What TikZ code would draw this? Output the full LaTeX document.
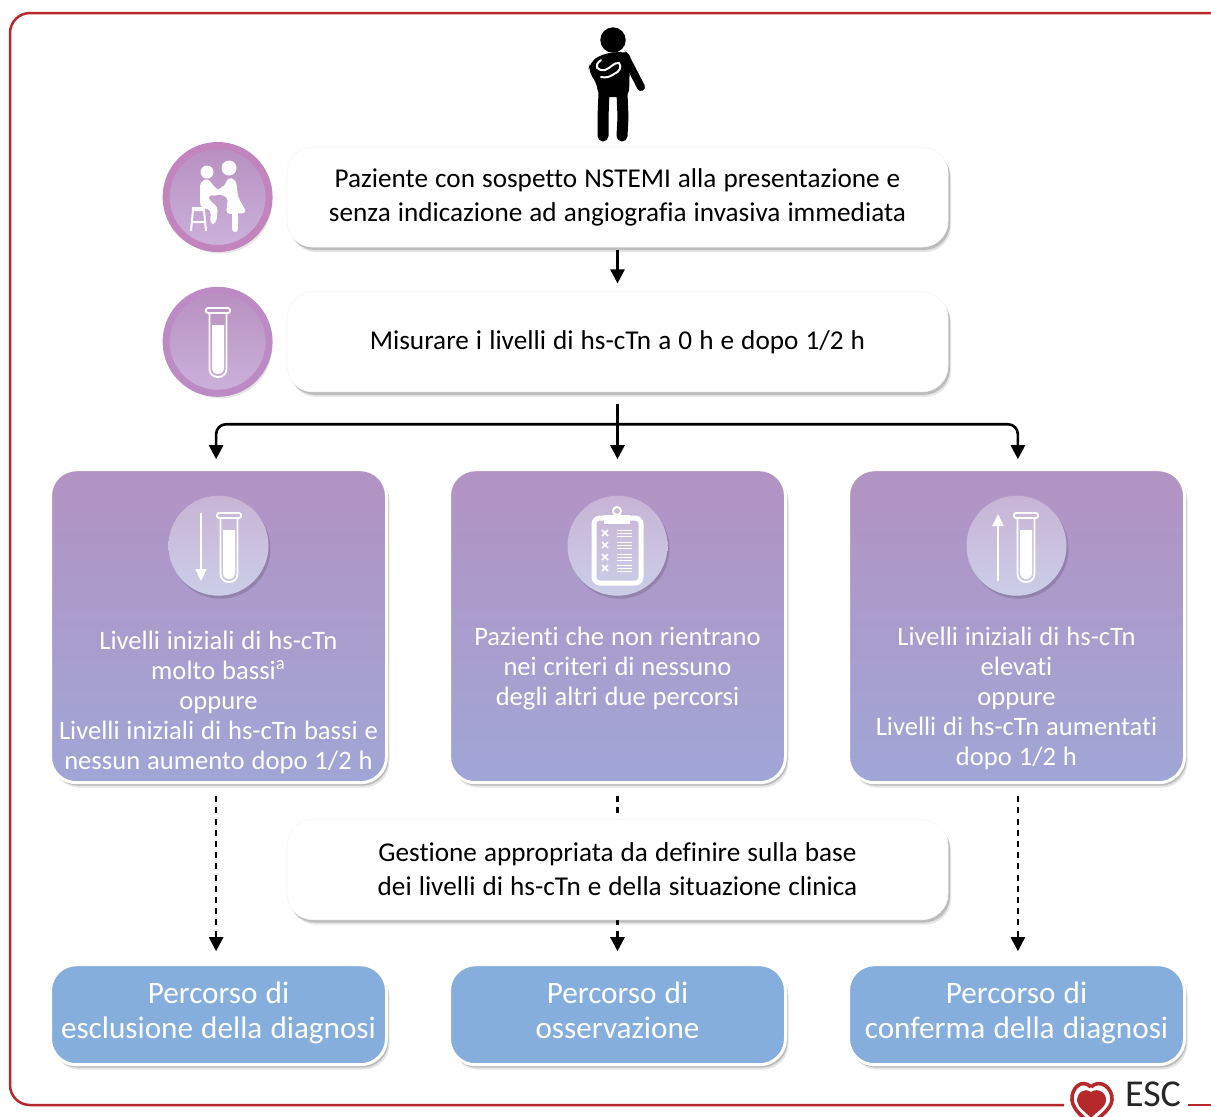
\documentclass[tikz,border=0pt]{standalone}
\usepackage{fontspec}
\setmainfont[Ligatures=NoCommon,WordSpace=1.15]{Carlito}
\usepackage{xcolor}
\usetikzlibrary{positioning}
\usetikzlibrary{shadows, arrows.meta}
\definecolor{framered}{HTML}{B5292B}
\definecolor{purpletop}{HTML}{B293C3}
\definecolor{purplebot}{HTML}{A0A6D6}
\definecolor{blueroute}{HTML}{85AEDD}
\definecolor{ringpink}{HTML}{C284BC}
\definecolor{ringviolet}{HTML}{BC8AC4}
\definecolor{disctop}{HTML}{B78FC0}
\definecolor{discbot}{HTML}{CBB2DB}
\tikzset{
    softshadow/.style={drop shadow={shadow xshift=1.5pt, shadow yshift=-2.5pt, opacity=.1, fill=black}, drop shadow={shadow xshift=1pt, shadow yshift=-1.5pt, opacity=.18, fill=black}},
    whitebox/.style={draw=gray!6, rectangle, rounded corners=13pt, minimum height=50pt, minimum width=330.5pt, fill=white, softshadow, align=center, font=\fontsize{13.6}{16.5}\selectfont},
    purplebox/.style={draw=white, line width=1.5pt, rectangle, rounded corners=13pt, minimum height=156.5pt, minimum width=168pt, top color=purpletop, bottom color=purplebot, softshadow},
    bluebox/.style={draw=white, line width=1.5pt, rectangle, rounded corners=13pt, minimum height=50pt, minimum width=168pt, inner xsep=0pt, fill=blueroute, softshadow, align=center, text=white, text height=28.5pt, text depth=5pt, font=\fontsize{15.6}{17.5}\selectfont},
    purpletext/.style={align=center, text=white, inner sep=0pt, font=\fontsize{13.3}{15}\selectfont},
    ringcircle/.style={circle, minimum size=51.5pt, inner sep=0pt, line width=3.5pt, top color=disctop, bottom color=discbot, softshadow},
    iconcircle/.style={circle, minimum size=50pt, inner sep=0pt, top color=white!30!purpletop, bottom color=white!45!purplebot, drop shadow={shadow xshift=1pt, shadow yshift=-1.5pt, opacity=.15, fill=black}},
    arrow/.style={line width=1.3pt,-{Stealth[length=7pt,width=7pt,inset=0pt]}},
    dasharrow/.style={line width=1.2pt,dash pattern=on 3pt off 2.6pt,-{Stealth[length=7pt,width=7pt,inset=0pt]}},
    whitearrow/.style={white, line width=1pt,-{Stealth[length=6pt,width=5.5pt,inset=0pt]}},
    frameline/.style={draw=framered, line width=1.25pt},
    tube/.pic={
        \draw [white, line width=.9pt, rounded corners=1pt] (-12,0) rectangle (12,5);
        \draw [white, line width=.9pt, rounded corners=4pt] (-8.5,5) -- (-8.5,69) -- (8.5,69) -- (8.5,5);
        \fill [white] (-6,17) [rounded corners=3pt] -- (-6,66) -- (6,66) [sharp corners] -- (6,17) -- cycle;
    }
}

\begin{document}
\begin{tikzpicture}[x=0.5pt,y=-0.5pt]
\useasboundingbox (0,0) rectangle (1211,1116);

% frame
\draw [frameline, rounded corners=10pt] (1211,13) -| (10,1105) -- (1064,1105);
\draw [frameline] (1188,1105) -- (1211,1105);

% boxes
\node [whitebox] (patient) at (617.5,197) {Paziente con sospetto NSTEMI alla presentazione e\\[.5pt]senza indicazione ad angiografia invasiva immediata};
\node [whitebox, below=22pt of patient] (measure) {Misurare i livelli di hs-cTn a 0 h e dopo 1/2 h};
\node [purplebox, below=38pt of measure] (midbox) {};
\node [purplebox, left=30pt of midbox] (leftbox) {};
\node [purplebox, right=30pt of midbox] (rightbox) {};
\node [bluebox, below=89.5pt of midbox] (watch) {Percorso di\\osservazione};
\node [bluebox, below=89.5pt of leftbox] (ruleout) {Percorso di\\esclusione della diagnosi};
\node [bluebox, below=89.5pt of rightbox] (rulein) {Percorso di\\conferma della diagnosi};

% connectors
\coordinate [below=16pt of measure] (fork);
\draw [arrow, shorten <=1.5pt, shorten >=4pt] (patient) -- (measure);
\draw [arrow, shorten <=6pt, shorten >=4.5pt] (measure) -- (midbox);
\draw [arrow, rounded corners=5pt, shorten >=4.5pt] (fork) -| ([xshift=-1.2pt]leftbox.north);
\draw [arrow, rounded corners=5pt, shorten >=4.5pt] (fork) -| ([xshift=.7pt]rightbox.north);
\draw [dasharrow, shorten <=6pt, shorten >=6pt] ([xshift=-1.2pt]leftbox.south) -- ([xshift=-1.2pt]ruleout.north);
\draw [dasharrow, shorten <=6pt, shorten >=6pt] (midbox) -- (watch);
\draw [dasharrow, shorten <=6pt, shorten >=6pt] ([xshift=.7pt]rightbox.south) -- ([xshift=.7pt]rulein.north);

\node [whitebox, below=17.5pt of midbox] (manage) {Gestione appropriata da definire sulla base\\[.5pt]dei livelli di hs-cTn e della situazione clinica};

% round icons beside the top boxes
\node [ringcircle, draw=ringpink, left=7pt of patient] (consult) {};
\node [ringcircle, draw=ringviolet, left=7pt of measure] (sample) {};
\node [iconcircle] (lowicon) at ([yshift=-38.75pt]leftbox.north) {};
\node [iconcircle] (listicon) at ([yshift=-38.75pt]midbox.north) {};
\node [iconcircle] (highicon) at ([yshift=-38.75pt]rightbox.north) {};

% box texts
\node [purpletext, below=17.5pt of lowicon] (lowtext) {Livelli iniziali di hs-cTn\\molto bassi\textsuperscript{a}\\oppure\\Livelli iniziali di hs-cTn bassi e\\nessun aumento dopo 1/2 h};
\node [purpletext, below=15.5pt of listicon] (listtext) {Pazienti che non rientrano\\nei criteri di nessuno\\degli altri due percorsi};
\node [purpletext, below=15.5pt of highicon] (hightext) {Livelli iniziali di hs-cTn\\elevati\\oppure\\Livelli di hs-cTn aumentati\\dopo 1/2 h};

% tubes and arrows
\pic at (218,308) {tube};
\pic at (229,513) {tube};
\pic at (1026,513) {tube};
\draw [whitearrow] (201,513) -- (201,581);
\draw [whitearrow] (998,581) -- (998,514);

% clipboard
\draw [white, line width=2.5pt, rounded corners=3pt] (594,518) rectangle (641,583);
\draw [white, line width=1pt] (617,511) circle (4);
\fill [white] (604,515) rectangle (630,524);
\foreach \y in {533,545,557,568} {
    \draw [white, line width=.8pt] (602,\y-3) -- (608,\y+3) (608,\y-3) -- (602,\y+3);
    \foreach \d in {-3,0,3}
        \draw [white, line width=.5pt] (617,\y+\d) -- (632,\y+\d);
}

% doctor and patient
\fill [white] (207,172) circle (6.5) (229,168) circle (7.5);
\fill [white, rounded corners=2pt] (200,182) -- (208,178) -- (215,188) -- (222,192) -- (218,196) -- (208,195) -- (209,200) -- (218,207) -- (216,224) -- (210,224) -- (211,210) -- (200,207) -- cycle;
\fill [white, rounded corners=2pt] (228,177) -- (236,180) -- (238,197) -- (247,213) -- (226,214) -- (228,197) -- (217,194) -- (217,189) -- (225,186) -- cycle;
\draw [white, line width=3pt, line cap=round] (235,214) -- (235,229);
\draw [white, line width=1pt] (191,231) -- (193,210) -- (204,210) -- (206,231) (192,222) -- (205,222);
\draw [white, line width=2pt] (192,209) -- (205,209);

% person on top
\fill [black] (613,40) circle (12.7);
\fill [black, rounded corners=4pt] (590,62) -- (602,54) -- (625,51) -- (630,56) -- (629,97) -- (598,97) -- (597,82) -- (588,72) -- cycle;
\draw [black, line width=4pt, line cap=round] (625,56) -- (641,87);
\draw [black, line width=5.5pt, line cap=round, line join=round] (604,93) -- (603,117) -- (603,136);
\draw [black, line width=5.5pt, line cap=round, line join=round] (622,93) -- (623,117) -- (622,136);
\draw [white, line width=1pt, line cap=round] (601,60) .. controls (593,66) and (597,71) .. (605,70) .. controls (611,68) and (614,62) .. (619,63) .. controls (622,66) and (620,72) .. (614,74) .. controls (610,77) and (606,78) .. (601,77);

% logo
\draw [framered, line width=1.8pt] (1091,1087) .. controls (1082,1078) and (1071,1088) .. (1072,1100) .. controls (1073,1110) and (1084,1118) .. (1091,1124) .. controls (1098,1118) and (1111,1110) .. (1112,1100) .. controls (1113,1088) and (1100,1078) .. (1091,1087);
\fill [framered] (1091,1092) .. controls (1084,1087) and (1077,1093) .. (1077,1101) .. controls (1078,1108) and (1086,1112) .. (1091,1118) .. controls (1096,1112) and (1105,1108) .. (1106,1101) .. controls (1107,1093) and (1098,1087) .. (1091,1092);
\node [inner sep=0pt, anchor=base, text=black!85, font=\fontsize{19}{19}\selectfont] (esc) at (1153,1106) {ESC};

\end{tikzpicture}
\end{document}
